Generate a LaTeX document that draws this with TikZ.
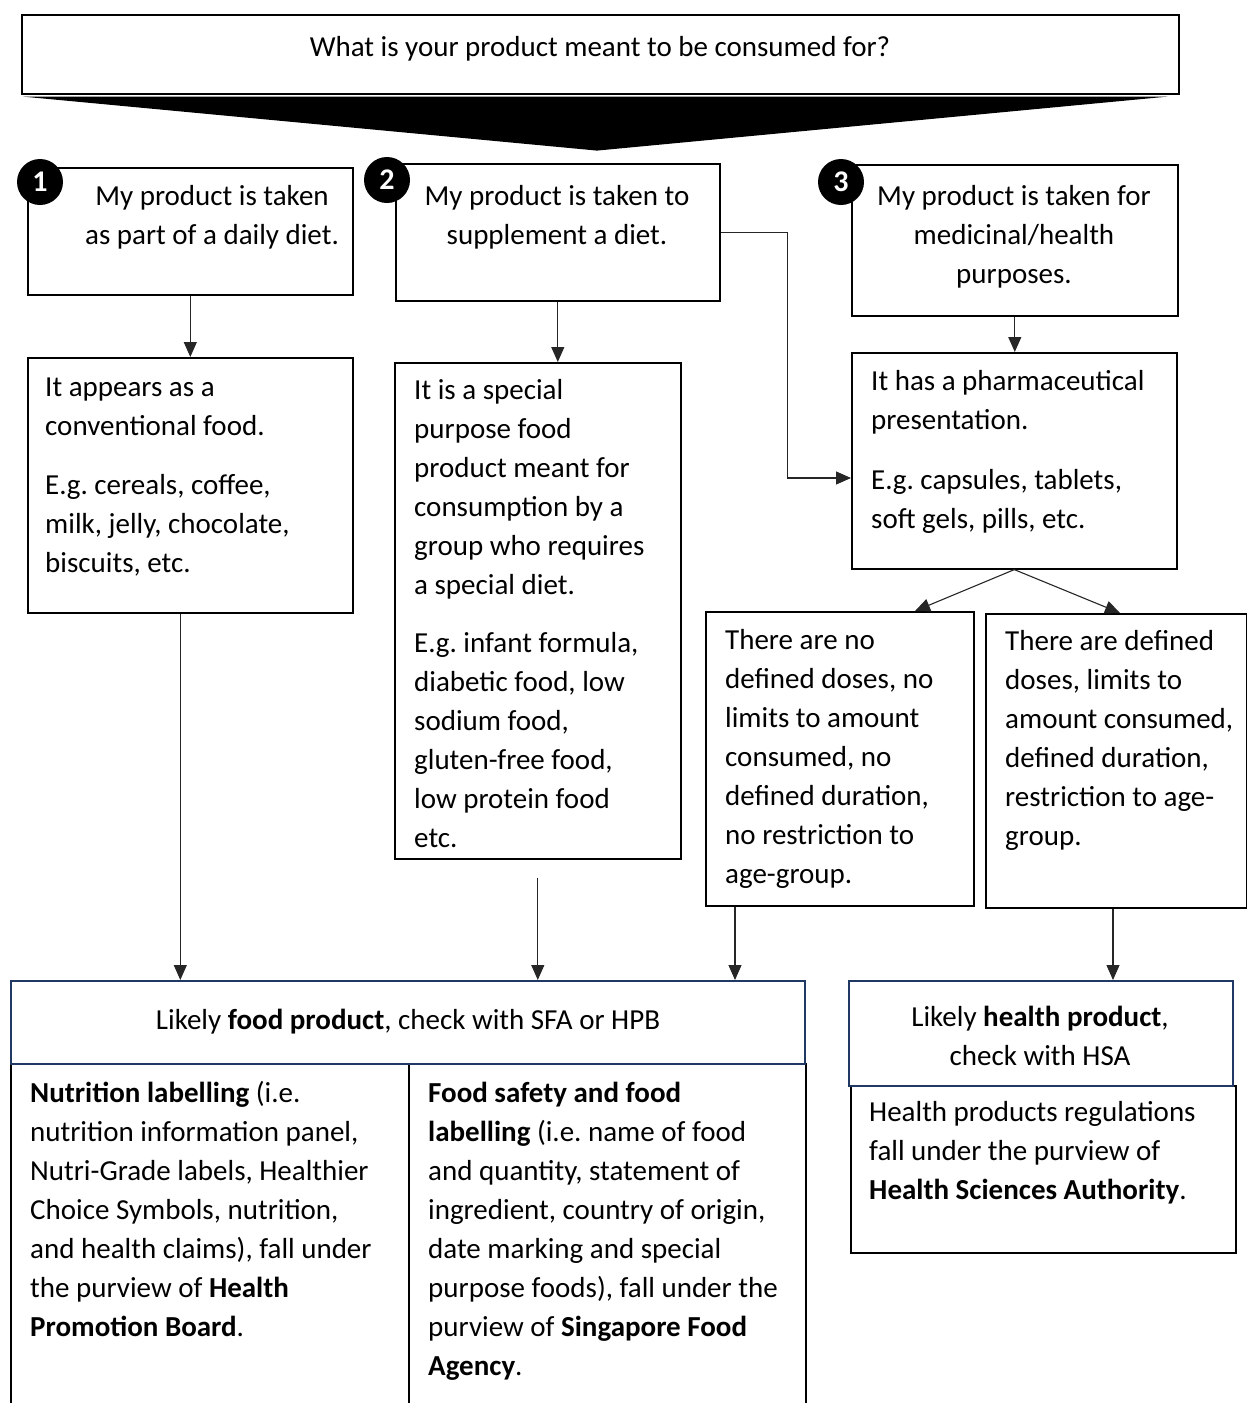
\documentclass[tikz,border=0pt]{standalone}
\usepackage{fontspec}
\setmainfont{Carlito}
\usetikzlibrary{arrows.meta,calc,positioning}
\definecolor{navy}{HTML}{1F3864}
\newcommand\fst{\rule{0pt}{30pt}}
\frenchspacing

\begin{document}
\begin{tikzpicture}[x=1pt,y=-1pt,
	box/.style={draw, line width=1.6pt, inner sep=0pt, anchor=north west},
	navybox/.style={box, draw=navy},
	txt/.style={font=\fontsize{29}{39}\selectfont, align=left, inner sep=0pt, anchor=north west},
	ctxt/.style={txt, align=center, anchor=north},
	num/.style={circle, fill=black, text=white, inner sep=0pt, minimum size=46pt, font=\fontsize{30}{30}\selectfont\bfseries},
	arr/.style={-{Triangle[length=15pt,width=13pt]}, line width=1.1pt, black!85}]

% page %{{{2

	\clip (0,0) rectangle (1247,1403);

% question and wedge %{{{2

	\node[box, minimum width=1157pt, minimum height=79pt] (q) at (21,14) {};
	\node[ctxt] (tq) at (600,26) {\fst What is your product meant to be consumed for?};
	\fill ([xshift=2pt,yshift=-2pt]q.south west) -- ([xshift=-12pt,yshift=-2pt]q.south east)
		-- ([xshift=576pt,yshift=-56pt]q.south west) -- cycle;

% purpose boxes %{{{2

	\node[box, minimum width=325pt, minimum height=127pt] (b1) at (27,167) {};
	\node[box, minimum width=324pt, minimum height=137pt] (b2) at (395,163) {};
	\node[box, minimum width=326pt, minimum height=151pt] (b3) at (851,164) {};

	\node[ctxt] (t1) at (212,175) {\fst My product is taken\\as part of a daily diet.};
	\node[ctxt] (t2) at (557,175) {\fst My product is taken to\\supplement a diet.};
	\node[ctxt] (t3) at (1014,175) {\fst My product is taken for\\medicinal/health\\purposes.};

	\node[num] (n1) at (40,182) {1};
	\node[num] (n2) at (387,180) {2};
	\node[num] (n3) at (841,182) {3};

% appearance boxes %{{{2

	\node[box, minimum width=325pt, minimum height=255pt] (bA) at (27,357) {};
	\node[box, minimum width=286pt, minimum height=496pt] (bB) at (394,362) {};
	\node[box, minimum width=325pt, minimum height=216pt] (bC) at (851,352) {};

	\node[txt] (tA) at (45,366) {\fst It appears as a\\conventional food.\\[20pt]E.g. cereals, coffee,\\milk, jelly, chocolate,\\biscuits, etc.};
	\node[txt] (tB) at (414,369) {\fst It is a special\\purpose food\\product meant for\\consumption by a\\group who requires\\a special diet.\\[19pt]E.g. infant formula,\\diabetic food, low\\sodium food,\\gluten-free food,\\low protein food\\etc.};
	\node[txt] (tC) at (871,360) {\fst It has a pharmaceutical\\presentation.\\[21pt]E.g. capsules, tablets,\\soft gels, pills, etc.};

% dose boxes %{{{2

	\node[box, minimum width=268pt, minimum height=294pt] (bD) at (705,611) {};
	\node[box, minimum width=261pt, minimum height=294pt] (bE) at (985,613) {};

	\node[txt] (tD) at (725,619) {\fst There are no\\defined doses, no\\limits to amount\\consumed, no\\defined duration,\\no restriction to\\age-group.};
	\node[txt] (tE) at (1005,620) {\fst There are defined\\doses, limits to\\amount consumed,\\defined duration,\\restriction to age-\\group.};

% outcome boxes %{{{2

	\node[box, minimum width=398pt, minimum height=360pt] (nut) at (10,1063) {};
	\node[box, minimum width=397pt, minimum height=360pt] (saf) at (408,1063) {};
	\node[box, minimum width=385pt, minimum height=167pt] (info) at (850,1085) {};
	\node[navybox, minimum width=794pt, minimum height=83pt] (food) at (10,980) {};
	\node[navybox, minimum width=384pt, minimum height=105pt] (health) at (848,980) {};

	\node[ctxt] (tfood) at (408,999) {\fst Likely \textbf{food product}, check with SFA or HPB};
	\node[ctxt] (thealth) at (1040,996) {\fst Likely \textbf{health product},\\check with HSA};
	\node[txt] (tinfo) at (869,1091) {\fst Health products regulations\\fall under the purview of\\\textbf{Health Sciences Authority}.};
	\node[txt] (tnut) at (30,1072) {\fst\textbf{Nutrition labelling} (i.e.\\nutrition information panel,\\Nutri-Grade labels, Healthier\\Choice Symbols, nutrition,\\and health claims), fall under\\the purview of \textbf{Health}\\\textbf{Promotion Board}.};
	\node[txt] (tsaf) at (428,1072) {\fst\textbf{Food safety and food}\\\textbf{labelling} (i.e. name of food\\and quantity, statement of\\ingredient, country of origin,\\date marking and special\\purpose foods), fall under the\\purview of \textbf{Singapore Food}\\\textbf{Agency}.};

% connectors %{{{2

	\draw[arr] (b1.south) -- (bA.north);
	\draw[arr] (b2.south) -- (b2.south |- bB.north);
	\draw[arr] (b3.south) -- (b3.south |- bC.north);
	\draw[arr] (b2.east) -- ++(67,0) |- ([yshift=-126pt]bC.north west);

	\draw[arr] (bC.south) -- ([xshift=210pt]bD.north west);
	\draw[arr] (bC.south) -- ([xshift=135pt]bE.north west);

	\draw[arr] ([xshift=-10pt]bA.south) -- ([xshift=-10pt]bA.south |- food.north);
	\draw[arr] ([yshift=-18pt]bB.south) -- (bB.south |- food.north);
	\draw[arr] ([xshift=30pt]bD.south west) -- ([xshift=30pt]bD.south west |- food.north);
	\draw[arr] ([xshift=128pt]bE.south west) -- ([xshift=128pt]bE.south west |- health.north);

\end{tikzpicture}
\end{document}
